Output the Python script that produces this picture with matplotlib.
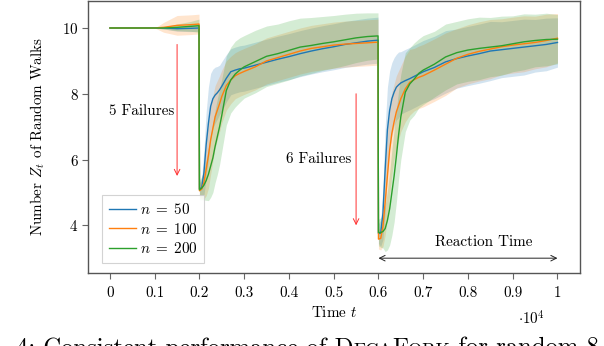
import matplotlib
matplotlib.use("Agg")
import numpy as np
import matplotlib.pyplot as plt
from matplotlib.offsetbox import TextArea, HPacker, AnchoredOffsetbox

plt.rcParams['font.family'] = 'serif'
plt.rcParams['font.serif'] = ['cmr10']
plt.rcParams['mathtext.fontset'] = 'cm'
plt.rcParams['axes.formatter.use_mathtext'] = True

FS = 10.9

# time grid (steps)
t = [0, 500, 1000, 1200, 1500, 1800, 1990,
     2000, 2050, 2100, 2150, 2200, 2250, 2300, 2350, 2400, 2450, 2500,
     2600, 2700, 2800, 2900, 3000,
     3250, 3500, 3750, 4000, 4250, 4500, 4750, 5000, 5250, 5500, 5750, 5990,
     6000, 6050, 6100, 6150, 6200, 6250, 6300, 6350, 6400, 6450, 6500,
     6600, 6700, 6800, 6900, 7000,
     7250, 7500, 7750, 8000, 8250, 8500, 8750, 9000, 9250, 9500, 9750, 10000]

# mean number of random walks
z_50 = [10.0, 10.0, 10.0, 10.0, 9.98, 9.99, 10.0,
        5.1, 5.15, 5.6, 6.45, 7.1, 7.62, 7.85, 7.96, 8.03, 8.12, 8.23,
        8.47, 8.67, 8.72, 8.76, 8.78,
        8.87, 8.96, 9.05, 9.13, 9.22, 9.3, 9.37, 9.43, 9.5, 9.55, 9.6, 9.63,
        3.75, 3.76, 4.37, 5.7, 6.9, 7.5, 7.85, 8.05, 8.2, 8.27, 8.33,
        8.4, 8.46, 8.53, 8.6, 8.67,
        8.8, 8.97, 9.07, 9.15, 9.22, 9.3, 9.34, 9.38, 9.42, 9.46, 9.5, 9.56]
z_100 = [10.0, 10.0, 10.0, 10.02, 10.08, 10.1, 10.12,
         5.05, 5.1, 5.3, 5.7, 6.12, 6.6, 6.95, 7.3, 7.5, 7.7, 7.92,
         8.25, 8.42, 8.55, 8.62, 8.68,
         8.82, 9.0, 9.1, 9.2, 9.3, 9.38, 9.43, 9.48, 9.51, 9.53, 9.55, 9.57,
         3.58, 3.6, 3.96, 4.7, 5.5, 6.29, 6.8, 7.15, 7.45, 7.65, 7.85,
         8.15, 8.35, 8.43, 8.5, 8.55,
         8.72, 8.9, 9.08, 9.2, 9.29, 9.36, 9.43, 9.48, 9.52, 9.56, 9.62, 9.69]
z_200 = [10.0, 10.0, 10.0, 10.0, 10.02, 10.05, 10.07,
         5.08, 5.13, 5.22, 5.36, 5.55, 5.8, 6.05, 6.4, 6.7, 7.0, 7.35,
         8.1, 8.42, 8.6, 8.72, 8.82,
         8.98, 9.14, 9.22, 9.32, 9.42, 9.47, 9.53, 9.58, 9.64, 9.7, 9.74, 9.76,
         3.78, 3.78, 3.81, 3.9, 4.15, 4.5, 5.0, 5.5, 6.1, 6.75, 7.3,
         8.05, 8.3, 8.45, 8.62, 8.72,
         8.9, 9.12, 9.25, 9.33, 9.38, 9.42, 9.46, 9.52, 9.58, 9.62, 9.65, 9.66]

# standard deviation
s_50 = [0, 0, 0, 0.03, 0.08, 0.1, 0.1,
        0.2, 0.3, 0.7, 1.0, 1.1, 1.0, 0.9, 0.85, 0.8, 0.75, 0.75,
        0.72, 0.7, 0.7, 0.7, 0.7,
        0.7, 0.7, 0.7, 0.7, 0.7, 0.7, 0.7, 0.7, 0.7, 0.7, 0.7, 0.7,
        0.3, 0.4, 0.8, 1.3, 1.3, 1.2, 1.1, 1.05, 1.0, 1.0, 0.95,
        0.95, 0.95, 0.95, 0.95, 0.95,
        0.95, 0.95, 0.9, 0.9, 0.9, 0.9, 0.85, 0.85, 0.85, 0.8, 0.8, 0.75]
s_100 = [0, 0, 0, 0.15, 0.3, 0.3, 0.3,
         0.2, 0.3, 0.5, 0.8, 1.0, 1.05, 1.0, 0.95, 0.9, 0.85, 0.8,
         0.75, 0.72, 0.7, 0.7, 0.7,
         0.7, 0.7, 0.7, 0.7, 0.7, 0.7, 0.7, 0.7, 0.7, 0.7, 0.7, 0.7,
         0.3, 0.35, 0.6, 1.0, 1.3, 1.35, 1.25, 1.15, 1.1, 1.05, 1.0,
         1.0, 1.0, 0.95, 0.95, 0.95,
         0.95, 0.95, 0.9, 0.9, 0.9, 0.9, 0.85, 0.85, 0.85, 0.8, 0.8, 0.75]
s_200 = [0, 0, 0, 0.03, 0.1, 0.15, 0.2,
         0.3, 0.35, 0.45, 0.6, 0.8, 0.95, 1.05, 1.1, 1.15, 1.15, 1.1,
         1.05, 1.0, 1.0, 0.98, 0.95,
         0.95, 0.92, 0.9, 0.9, 0.88, 0.85, 0.82, 0.8, 0.78, 0.75, 0.72, 0.7,
         0.4, 0.45, 0.5, 0.7, 0.9, 1.1, 1.3, 1.4, 1.4, 1.35, 1.3,
         1.2, 1.1, 1.1, 1.05, 1.05,
         1.0, 1.0, 0.95, 0.95, 0.95, 0.9, 0.9, 0.85, 0.85, 0.8, 0.8, 0.75]

labels = [r'$n\;=\;50$', r'$n\;=\;100$', r'$n\;=\;200$']
colors = ['#1f77b4', '#ff7f0e', '#2ca02c']

xticks = [0, 1000, 2000, 3000, 4000, 5000, 6000, 7000, 8000, 9000, 10000]
xtick_labels = ['0', '0.1', '0.2', '0.3', '0.4', '0.5', '0.6', '0.7', '0.8', '0.9', '1']
yticks = [4, 6, 8, 10]

fig = plt.figure(figsize=(6.04, 3.46), dpi=100)
ax = fig.add_axes([0.145, 0.212, 0.815, 0.785])

tt = np.array(t)
for z, s, lab, c in zip([z_50, z_100, z_200], [s_50, s_100, s_200], labels, colors):
    z = np.array(z)
    s = np.array(s)
    ax.fill_between(tt, z - s, z + s, color=c, alpha=0.2, lw=0)
    ax.plot(tt, z, color=c, lw=1.0, label=lab)

# failure arrows
ax.annotate('', xy=(1500, 5.5), xytext=(1500, 9.5),
            arrowprops=dict(arrowstyle='->', color='#ff3030', lw=0.7, shrinkA=0, shrinkB=0))
ax.annotate('', xy=(5500, 4.0), xytext=(5500, 8.0),
            arrowprops=dict(arrowstyle='->', color='#ff3030', lw=0.7, shrinkA=0, shrinkB=0))
ax.text(700, 7.48, '5 Failures', ha='center', va='center', fontsize=FS)
ax.text(5400, 6.02, '6 Failures', ha='right', va='center', fontsize=FS)

# reaction time
ax.annotate('', xy=(10000, 3.0), xytext=(6000, 3.0),
            arrowprops=dict(arrowstyle='<->', color='#222222', lw=0.7, shrinkA=0, shrinkB=0))
ax.text(8350, 3.5, 'Reaction Time', ha='center', va='center', fontsize=FS)

ax.set_xlim(-500, 10500)
ax.set_ylim(2.56, 10.82)
ax.set_xticks(xticks)
ax.set_xticklabels(xtick_labels)
ax.set_yticks(yticks)
ax.tick_params(direction='out', length=4.5, width=0.8, color='#666666', labelsize=FS)
ax.tick_params(axis='x', pad=5.0)
ax.tick_params(axis='y', pad=2)
for sp in ax.spines.values():
    sp.set_color('#555555')
    sp.set_linewidth(1.0)

ax.set_xlabel(r'Time $t$', fontsize=FS)
ax.set_ylabel(r'Number $Z_t$ of Random Walks', fontsize=FS)
ax.xaxis.set_label_coords(0.5, -0.12)
ax.yaxis.set_label_coords(-0.083, 0.5)

fig.text(0.857, 0.078, r'$\cdot 10^4$', fontsize=FS, ha='left', va='center')

leg = ax.legend(loc='lower left', bbox_to_anchor=(0.029, 0.036), borderaxespad=0,
                fontsize=FS, fancybox=False, edgecolor='#cccccc', framealpha=0.85,
                handlelength=1.8, borderpad=0.45, labelspacing=0.3, handletextpad=0.25)
leg.get_frame().set_linewidth(0.8)

# caption fragment at the bottom edge
big = dict(fontsize=17.8, family='serif')
small = dict(fontsize=13.1, family='serif')
parts = [TextArea('4: Consistent performance of D', textprops=big),
         TextArea('ECA', textprops=small),
         TextArea('F', textprops=big),
         TextArea('ORK', textprops=small),
         TextArea(' for random 8-d', textprops=big)]
box = HPacker(children=parts, align='baseline', pad=0, sep=0)
anch = AnchoredOffsetbox(loc='lower left', child=box, pad=0, borderpad=0, frameon=False,
                         bbox_to_anchor=(0.026, -0.04), bbox_transform=fig.transFigure)
fig.add_artist(anch)

fig.savefig('out.png', dpi=100)
